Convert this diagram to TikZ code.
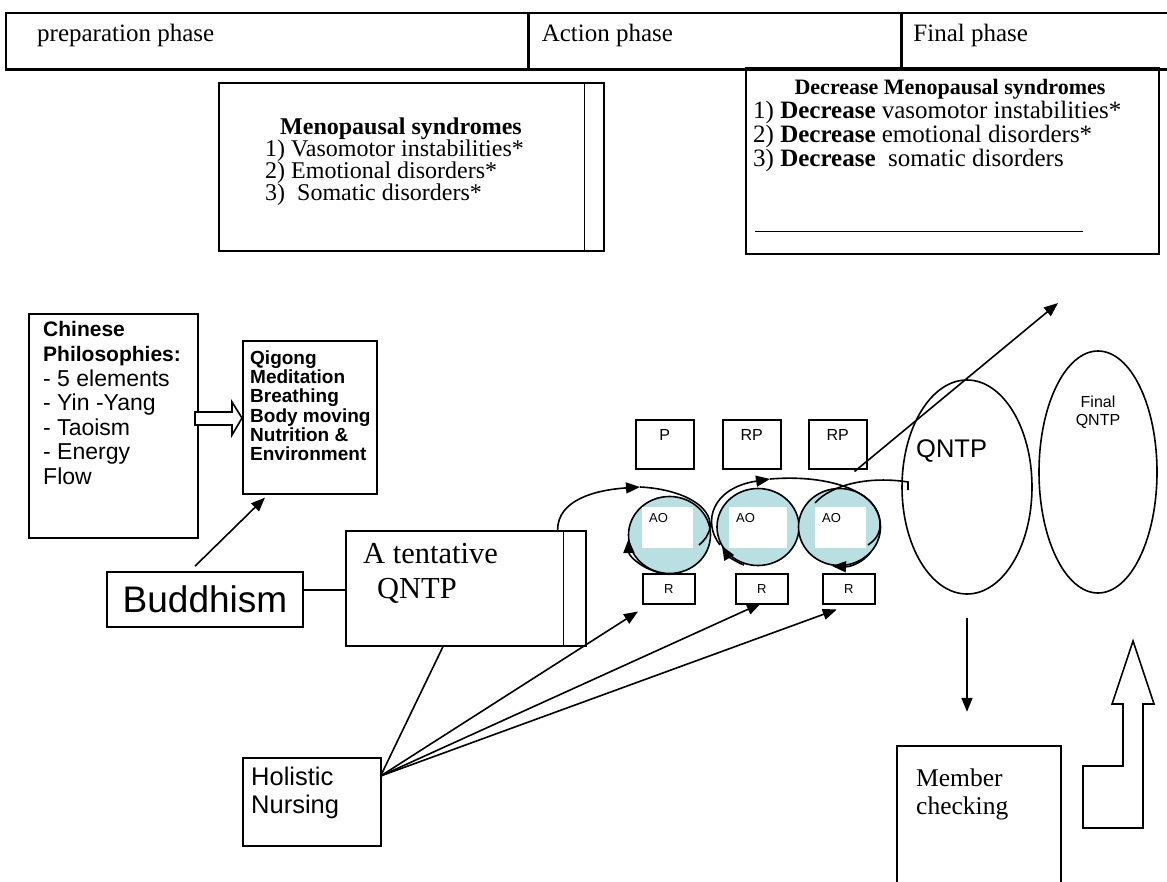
\documentclass[tikz,border=0pt]{standalone}
\usepackage{fontspec}
\setmainfont{Liberation Serif}
\setsansfont{Liberation Sans}
\usetikzlibrary{arrows.meta,shapes.geometric,calc}
\definecolor{aoTeal}{HTML}{B9DFE3}
\newcommand{\pxf}[2]{\fontsize{#1}{#2}\selectfont}
\tikzset{
  qn box/.style={draw, line width=1.6pt, anchor=north west, inner sep=0pt},
  qn line/.style={draw, line width=1.6pt},
  qn arrow/.style={draw, line width=1.6pt, -{Triangle[length=14pt,width=11pt]}},
  qn serif/.style={anchor=base west, inner sep=0pt, font=\pxf{24}{24}},
  qn sans/.style={anchor=base west, inner sep=0pt, font=\sffamily\pxf{23}{23}},
}
\begin{document}
\begin{tikzpicture}[x=1pt,y=-1pt]
\useasboundingbox (0,0) rectangle (1167,882);
\fill[white] (0,0) rectangle (1167,882);
\node[qn box, minimum width=522, minimum height=56] (prep) at (5,12) {};
\node[qn box, minimum width=371, minimum height=56] (act) at (prep.north east) {};
\node[qn box, minimum width=290, minimum height=56] (fin) at (act.north east) {};
\draw[line width=3pt] (prep.south west) -- (fin.south east);
\node[qn serif, font=\pxf{25}{25}] (prept) at ($(prep.north west)+(32,30)$) {preparation phase};
\node[qn serif, font=\pxf{25}{25}] (actt) at ($(act.north west)+(13,30)$) {Action phase};
\node[qn serif, font=\pxf{25}{25}] (fint) at ($(fin.north west)+(12,30)$) {Final phase};

\node[qn box, minimum width=385, minimum height=168] (meno) at (218,82) {};
\draw[qn line] ($(meno.north east)+(-20,0)$) -- ($(meno.south east)+(-20,0)$);
\node[anchor=base, inner sep=0pt, font=\bfseries\pxf{24}{24}] (menot) at (401,135) {Menopausal syndromes};
\foreach \t [count=\i] in {1) Vasomotor instabilities*, 2) Emotional disorders*, 3)\ \ Somatic disorders*}
  \node[qn serif] (meno\i) at (265,135+22*\i) {\t};

\node[qn box, minimum width=413, minimum height=186] (decr) at (745,67) {};
\node[anchor=base, inner sep=0pt, font=\bfseries\pxf{22}{22}] (decrt) at (950,95) {Decrease Menopausal syndromes};
\foreach \t [count=\i] in {1) \textbf{Decrease} vasomotor instabilities*, 2) \textbf{Decrease} emotional disorders*, 3) \textbf{Decrease}\ \ somatic disorders}
  \node[qn serif, font=\pxf{25}{25}] (decr\i) at (753,94.5+24*\i) {\t};
\draw[qn line] ($(decr.south west)+(10,-23)$) -- +(328,0);

\node[qn box, minimum width=169, minimum height=224] (chin) at (28,313) {};
\foreach \t [count=\i] in {{\pxf{21}{21}\bfseries Chinese}, {\pxf{21}{21}\bfseries Philosophies:}, - 5 elements, - Yin -Yang, - Taoism, - Energy, Flow}
  \node[qn sans] (chin\i) at (43,312.5+24.5*\i) {\t};
\node[qn box, minimum width=134, minimum height=153] (qig) at (242,340) {};
\foreach \t [count=\i] in {Qigong, Meditation, Breathing, Body moving, Nutrition \&, Environment}
  \node[qn sans, font=\sffamily\bfseries\pxf{19}{19}] (qig\i) at (250,345.2+19.2*\i) {\t};
\draw[line width=1.6pt, fill=white] (195,412) -- (232,412) -- (232,402) -- (242,418) -- (232,435) -- (232,425) -- (195,425) -- cycle;

\node[draw, line width=1.6pt, minimum width=196, minimum height=55, inner sep=0pt, font=\sffamily\pxf{37}{37}] (bud) at (205,599.5) {Buddhism};
\node[qn box, minimum width=240, minimum height=115] (tent) at (345,530) {};
\draw[qn line] ($(tent.north east)+(-23,0)$) -- ($(tent.south east)+(-23,0)$);
\node[qn serif, font=\pxf{30.5}{30.5}] (tent1) at (363,563) {A tentative};
\node[qn serif, font=\pxf{30.5}{30.5}] (tent2) at (377,598) {QNTP};
\node[qn box, minimum width=138, minimum height=88] (hol) at (242,757) {};
\node[qn sans, font=\sffamily\pxf{25.5}{25.5}] (hol1) at (251,785) {Holistic};
\node[qn sans, font=\sffamily\pxf{25.5}{25.5}] (hol2) at (251,813) {Nursing};

\foreach \n/\x/\t in {p1/635/P, p2/722/RP, p3/808/RP}{
  \node[qn box, line width=1.5pt, minimum width=58, minimum height=49] (\n) at (\x,419) {};
  \node[anchor=base, inner sep=0pt, font=\sffamily\pxf{16}{16}] (\n t) at ($(\n.north)+(0,21)$) {\t};
}
\foreach \n/\x in {r1/642, r2/735, r3/822}
  \node[qn box, line width=1.5pt, minimum width=52, minimum height=30, font=\sffamily\pxf{13}{13}] (\n) at (\x,573) {R};
\foreach \n/\x/\y/\wx/\ww in {c1/669.5/535/642/51, c2/758/527/729/58, c3/839.5/527/815/51}{
  \node[ellipse, draw, line width=1.6pt, fill=aoTeal, minimum width=82, minimum height=77, inner sep=0pt] (\n) at (\x,\y) {};
  \fill[white] (\wx,507) rectangle +(\ww,41);
  \node[anchor=base west, inner sep=0pt, font=\sffamily\pxf{13}{13}] (\n t) at (\wx+7,522) {AO};
}
\node[ellipse, draw, line width=1.6pt, minimum width=130, minimum height=214, inner sep=0pt] (qntp) at (967,487) {};
\node[qn sans, font=\sffamily\pxf{25.5}{25.5}] (qntpt) at (916,457) {QNTP};
\node[ellipse, draw, line width=1.6pt, minimum width=118, minimum height=242, inner sep=0pt] (fqntp) at (1098,472) {};
\node[align=center, inner sep=0pt, font=\sffamily\pxf{16}{18}] (fqntpt) at (1098,412) {Final\\QNTP};
\node[qn box, minimum width=164, minimum height=150] (mem) at (896,745) {};
\node[qn serif, font=\pxf{25.5}{25.5}] (mem1) at (916,786) {Member};
\node[qn serif, font=\pxf{25.5}{25.5}] (mem2) at (916,814) {checking};

\coordinate (a1) at (640,487);
\coordinate (a2) at (770,479);
\coordinate (outtip) at (1058,303);
\coordinate (hfan) at ($(hol.north east)+(-1,19)$);
\draw[qn arrow] ($(tent.north east)+(-29,0)$) .. controls +(0,-30) and +(-45,3) .. (a1);
\draw[qn line] (a1) .. controls (680,489) and (712,505) .. (710,527) .. controls (709,535) and (704,541) .. (699,545);
\draw[qn arrow] (720,545) .. controls (702,522) and (712,488) .. (a2);
\draw[qn line] (a2) .. controls (830,474) and (881,492) .. (880,525) .. controls (880,535) and (874,541) .. (868,545);
\draw[qn arrow] (c1.south) .. controls (647,573) and (629,557) .. (628.5,539);
\draw[qn arrow] (744,565) .. controls (736,562) and (728,556) .. (722,546);
\draw[qn arrow] (870,553) .. controls (862,563) and (850,567) .. (832,566);
\draw[qn line] (815,503) .. controls (832,484) and (870,476) .. (908,482) -- (908,490);
\draw[qn arrow] ($(p3.south east)+(-13,2)$) -- (outtip);

\draw[qn arrow] ($(bud.north)+(-10,-5)$) -- ($(qig.south west)+(23,3)$);
\draw[qn line] (bud.east |- 0,590) -- (tent.west |- 0,590);
\draw[qn line] (hfan) -- ($(tent.south west)+(98,0)$);
\draw[qn arrow] (hfan) -- ($(r1.south west)+(-4,7)$);
\draw[qn arrow] (hfan) -- ($(r2.south)+(-1,-1)$);
\draw[qn arrow] (hfan) -- ($(r3.south)+(-12,5)$);

\draw[qn arrow] ($(qntp.south)+(0,23)$) -- ($(qntp.south)+(0,117)$);
\draw[line width=1.6pt, fill=white] (1083,828) -- (1083,766) -- (1123,766) -- (1123,704) -- (1112,704) -- (1133,641) -- (1154,704) -- (1143,704) -- (1143,828) -- cycle;
\end{tikzpicture}
\end{document}
